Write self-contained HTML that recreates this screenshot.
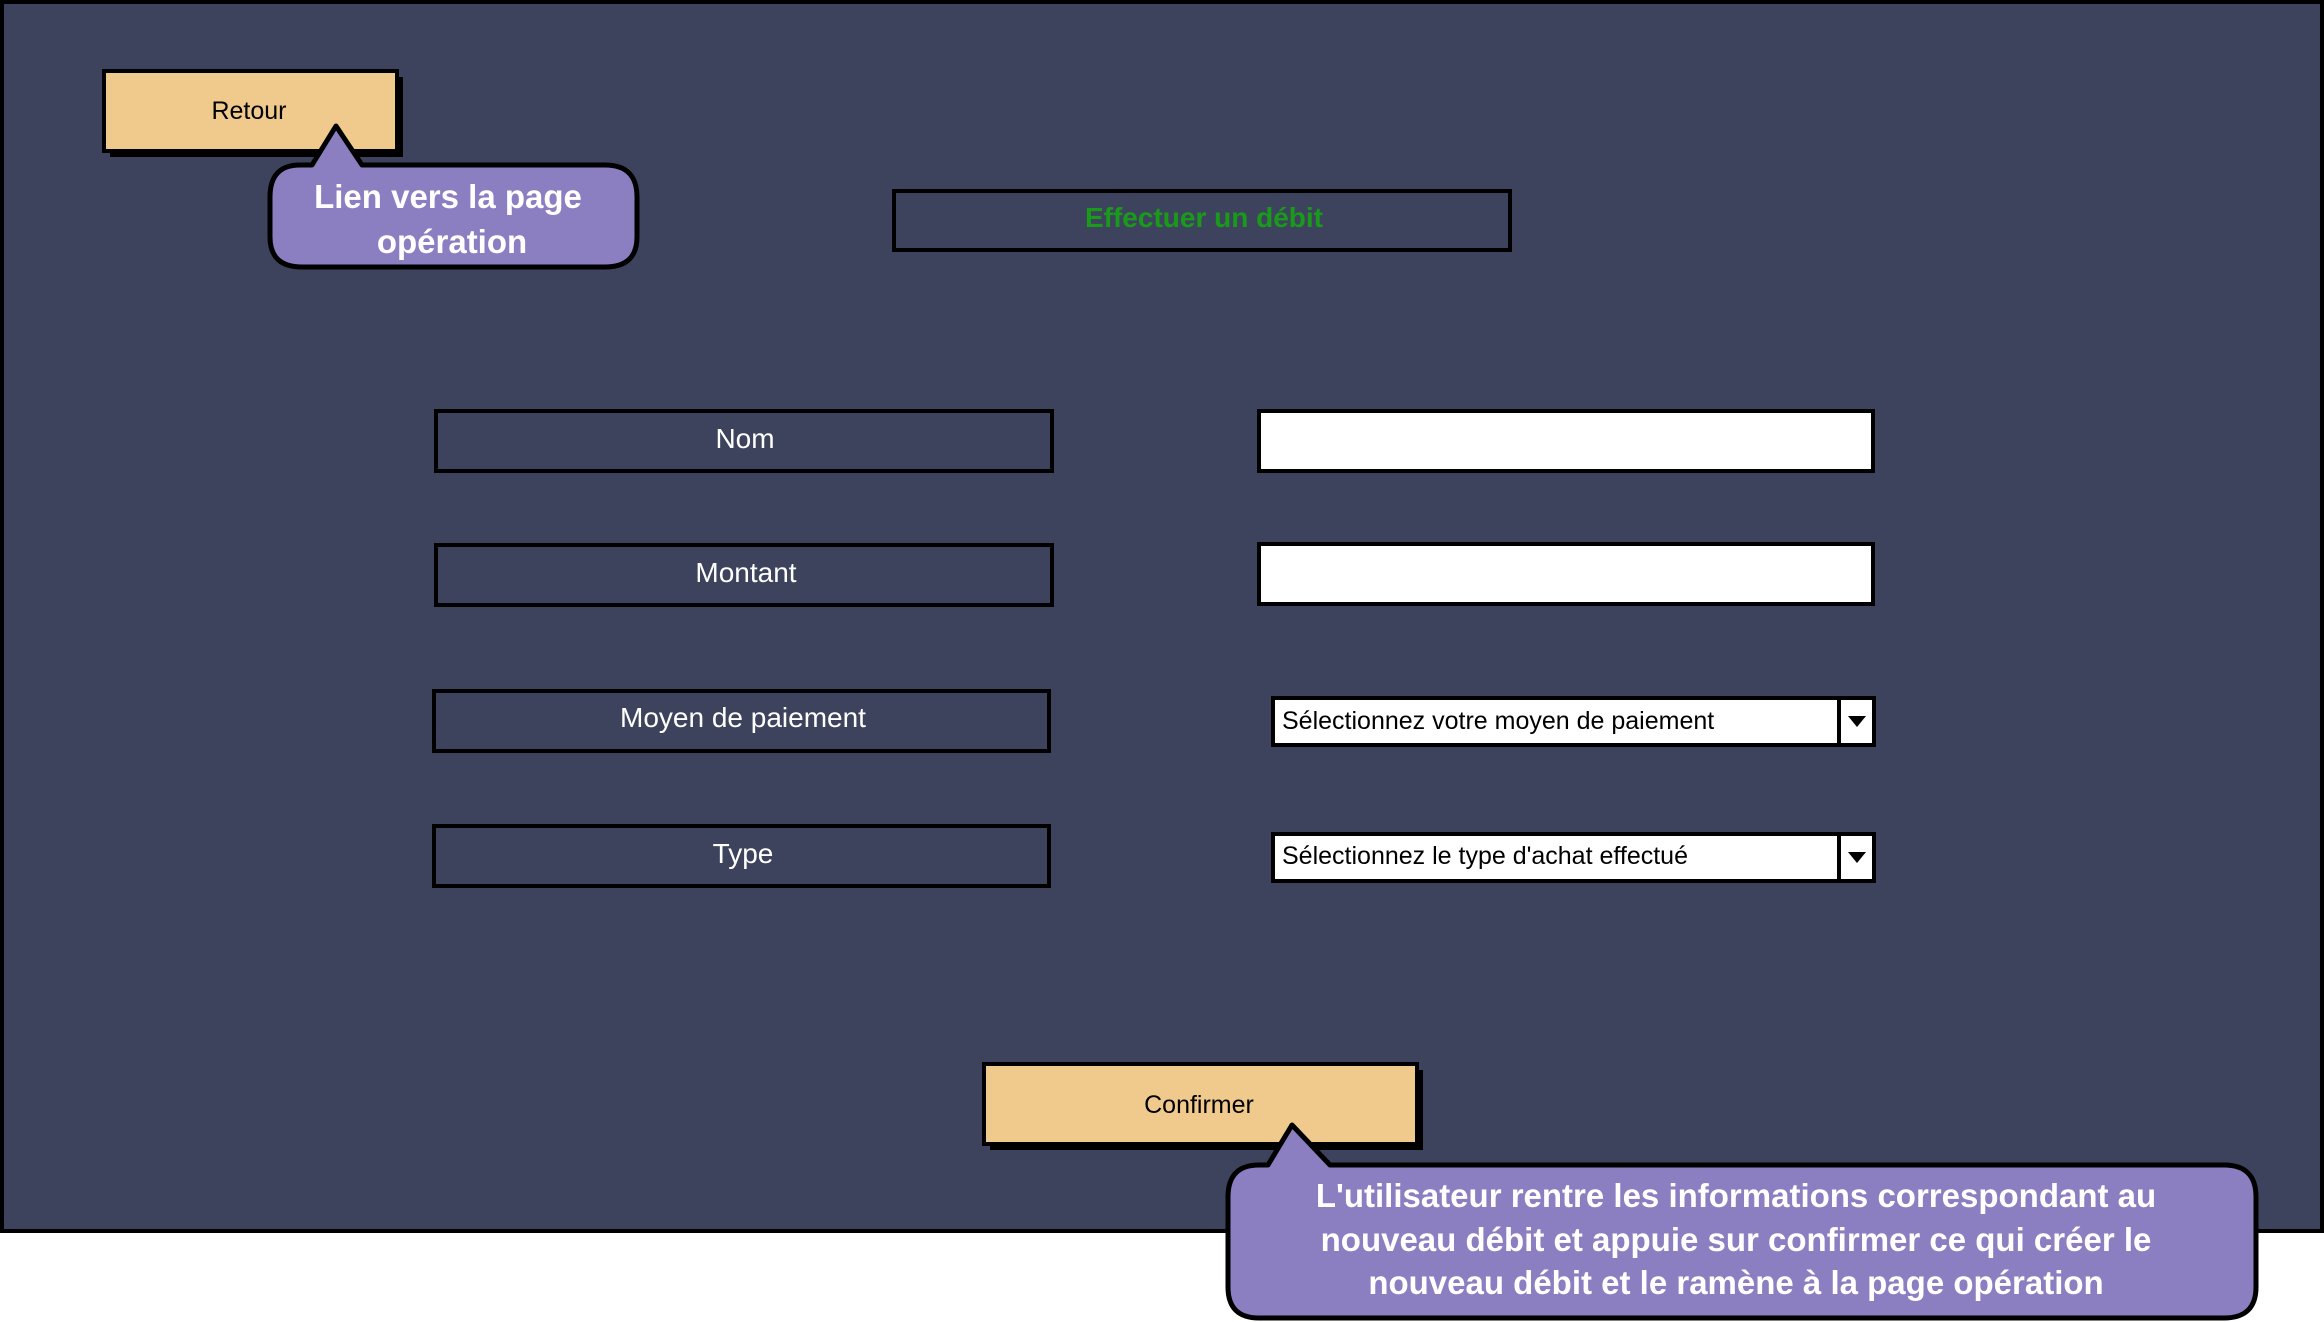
<!DOCTYPE html>
<html><head><meta charset="utf-8"><style>
html,body{margin:0;padding:0;background:#fff;}
svg{display:block}
text{font-family:"Liberation Sans",sans-serif}
</style></head><body>
<svg width="2324" height="1322" viewBox="0 0 2324 1322" xmlns="http://www.w3.org/2000/svg">
<rect x="2" y="2" width="2320" height="1229" fill="#3d435c" stroke="#000" stroke-width="4"/>
<!-- Retour -->
<rect x="110" y="77" width="293" height="80" fill="#000"/>
<rect x="104" y="71" width="293" height="80" fill="#f0c98d" stroke="#000" stroke-width="4"/>
<text x="249" y="119" font-size="25" text-anchor="middle" fill="#000">Retour</text>
<!-- callout 1 -->
<path d="M300,165 L312,165 L336,126 L362,165 L605,165 Q637,165 637,197 L637,237 Q637,267 605,267 L302,267 Q270,267 270,237 L270,197 Q270,165 300,165 Z" fill="#8c7fc1" stroke="#000" stroke-width="5" stroke-linejoin="round"/>
<text x="448" y="208" font-size="33" font-weight="bold" text-anchor="middle" fill="#fff">Lien vers la page</text>
<text x="452" y="253" font-size="33" font-weight="bold" text-anchor="middle" fill="#fff">opération</text>
<!-- title -->
<rect x="894" y="191" width="616" height="59" fill="none" stroke="#000" stroke-width="4"/>
<text x="1204" y="227" font-size="28" font-weight="bold" text-anchor="middle" fill="#1a9a1a">Effectuer un débit</text>
<!-- labels -->
<g fill="none" stroke="#000" stroke-width="4">
<rect x="436" y="411" width="616" height="60"/>
<rect x="436" y="545" width="616" height="60"/>
<rect x="434" y="691" width="615" height="60"/>
<rect x="434" y="826" width="615" height="60"/>
</g>
<g font-size="28" fill="#fff" text-anchor="middle">
<text x="745" y="448">Nom</text>
<text x="746" y="582">Montant</text>
<text x="743" y="727">Moyen de paiement</text>
<text x="743" y="863">Type</text>
</g>
<!-- inputs -->
<rect x="1259" y="411" width="614" height="60" fill="#fff" stroke="#000" stroke-width="4"/>
<rect x="1259" y="544" width="614" height="60" fill="#fff" stroke="#000" stroke-width="4"/>
<!-- selects -->
<rect x="1273" y="698" width="601" height="47" fill="#fff" stroke="#000" stroke-width="4"/>
<line x1="1839" y1="698" x2="1839" y2="745" stroke="#000" stroke-width="4"/>
<path d="M1848,716 L1866,716 L1857,727 Z" fill="#000"/>
<text x="1282" y="729" font-size="25" fill="#000">Sélectionnez votre moyen de paiement</text>
<rect x="1273" y="834" width="601" height="47" fill="#fff" stroke="#000" stroke-width="4"/>
<line x1="1839" y1="834" x2="1839" y2="881" stroke="#000" stroke-width="4"/>
<path d="M1848,852 L1866,852 L1857,863 Z" fill="#000"/>
<text x="1282" y="864" font-size="25" fill="#000">Sélectionnez le type d'achat effectué</text>
<!-- Confirmer -->
<rect x="990" y="1070" width="433" height="80" fill="#000"/>
<rect x="984" y="1064" width="433" height="80" fill="#f0c98d" stroke="#000" stroke-width="4"/>
<text x="1199" y="1113" font-size="25" text-anchor="middle" fill="#000">Confirmer</text>
<!-- callout 2 -->
<path d="M1259,1165 L1268,1165 L1292,1125 L1330,1165 L2224,1165 Q2256,1165 2256,1197 L2256,1287 Q2256,1318 2224,1318 L1259,1318 Q1228,1318 1228,1287 L1228,1197 Q1228,1165 1259,1165 Z" fill="#8c7fc1" stroke="#000" stroke-width="5" stroke-linejoin="round"/>
<g font-size="33" font-weight="bold" fill="#fff" text-anchor="middle">
<text x="1736" y="1207">L'utilisateur rentre les informations correspondant au</text>
<text x="1736" y="1251">nouveau débit et appuie sur confirmer ce qui créer le</text>
<text x="1736" y="1294">nouveau débit et le ramène à la page opération</text>
</g>
</svg>
</body></html>
